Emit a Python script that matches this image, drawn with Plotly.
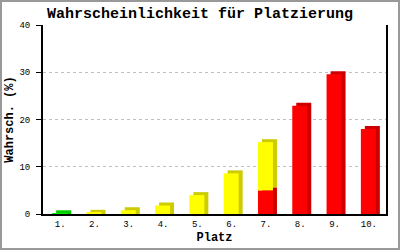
import plotly.graph_objects as go

categories = ["1.", "2.", "3.", "4.", "5.", "6.", "7.", "8.", "9.", "10."]
green = [0.15, 0, 0, 0, 0, 0, 0, 0, 0, 0]
red = [0, 0, 0, 0, 0, 0, 5.0, 22.9, 29.6, 18.0]
yellow = [0, 0.25, 0.8, 1.8, 4.0, 8.6, 10.2, 0, 0, 0]
y_ticks = [0, 10, 20, 30, 40]

title = "Wahrscheinlichkeit für Platzierung"
x_title = "Platz"
y_title = "Wahrsch. (%)"

W, H = 400, 250
ML, MR, MT, MB = 43, 14, 25, 36
PW, PH = W - ML - MR, H - MT - MB

# 3D depth in pixels -> data units
depth_px_x, depth_px_y = 4, 3
cat_px = PW / len(categories)
dx = depth_px_x / cat_px
dy = depth_px_y * (y_ticks[-1] - y_ticks[0]) / PH
bw = 15 / cat_px
off = -0.233

# stacking: red/green at bottom, yellow on top
bases = {
    "red": [0] * len(categories),
    "green": [0] * len(categories),
    "yellow": [r + g for r, g in zip(red, green)],
}
series = [
    ("red", red, "#ff0000", "#cc0000"),
    ("green", green, "#00ee00", "#00cc00"),
    ("yellow", yellow, "#ffff00", "#cccc00"),
]

fig = go.Figure()

# back (depth) faces
for name, vals, front_c, back_c in series:
    b_list, h_list = [], []
    for b, v in zip(bases[name], vals):
        if v <= 0:
            b_list.append(0)
            h_list.append(0)
            continue
        bb = b + dy if b > 0 else 0
        top = b + v + dy
        b_list.append(bb)
        h_list.append(top - bb)
    fig.add_trace(go.Bar(x=categories, y=h_list, base=b_list, width=bw,
                         offset=off + dx, marker=dict(color=back_c, line=dict(width=0)),
                         showlegend=False, hoverinfo="skip"))

# front faces
for name, vals, front_c, back_c in series:
    fig.add_trace(go.Bar(x=categories, y=vals, base=bases[name], width=bw,
                         offset=off, marker=dict(color=front_c, line=dict(width=0)),
                         showlegend=False, name=name))

mono = "Liberation Mono"
fig.update_layout(
    width=W, height=H,
    margin=dict(l=ML, r=MR, t=MT, b=MB, pad=0),
    paper_bgcolor="white", plot_bgcolor="white",
    barmode="overlay",
    title=dict(text="<b>" + title + "</b>", x=0.5, xanchor="center",
               y=1 - 13 / H, yanchor="middle",
               font=dict(family=mono, size=15, color="black")),
    xaxis=dict(type="category", range=[-0.5, len(categories) - 0.5],
               automargin=False,
               showline=True, linecolor="black", linewidth=2,
               ticks="", showgrid=False, zeroline=False,
               tickfont=dict(family=mono, size=9, color="black"),
               title=dict(text="<b>" + x_title + "</b>", standoff=4,
                          font=dict(family=mono, size=12, color="black"))),
    yaxis=dict(range=[y_ticks[0], y_ticks[-1]], tickvals=y_ticks,
               automargin=False,
               showline=True, linecolor="black", linewidth=2, mirror=True,
               ticks="outside", ticklen=5, tickwidth=1, tickcolor="black",
               ticklabelstandoff=4,
               showgrid=True, gridcolor="#c0c0c0", griddash="3px,3px", gridwidth=1,
               zeroline=False,
               tickfont=dict(family=mono, size=9, color="black"),
               title=dict(text="<b>" + y_title + "</b>", standoff=3,
                          font=dict(family=mono, size=12, color="black"))),
)

# outer gray frame
fig.add_shape(type="rect", xref="paper", yref="paper",
              x0=(-ML + 1) / PW, x1=1 + (MR - 1) / PW,
              y0=(-MB + 1) / PH, y1=1 + (MT - 1) / PH,
              line=dict(color="#999999", width=2), layer="below")

fig.write_html("out.html")
